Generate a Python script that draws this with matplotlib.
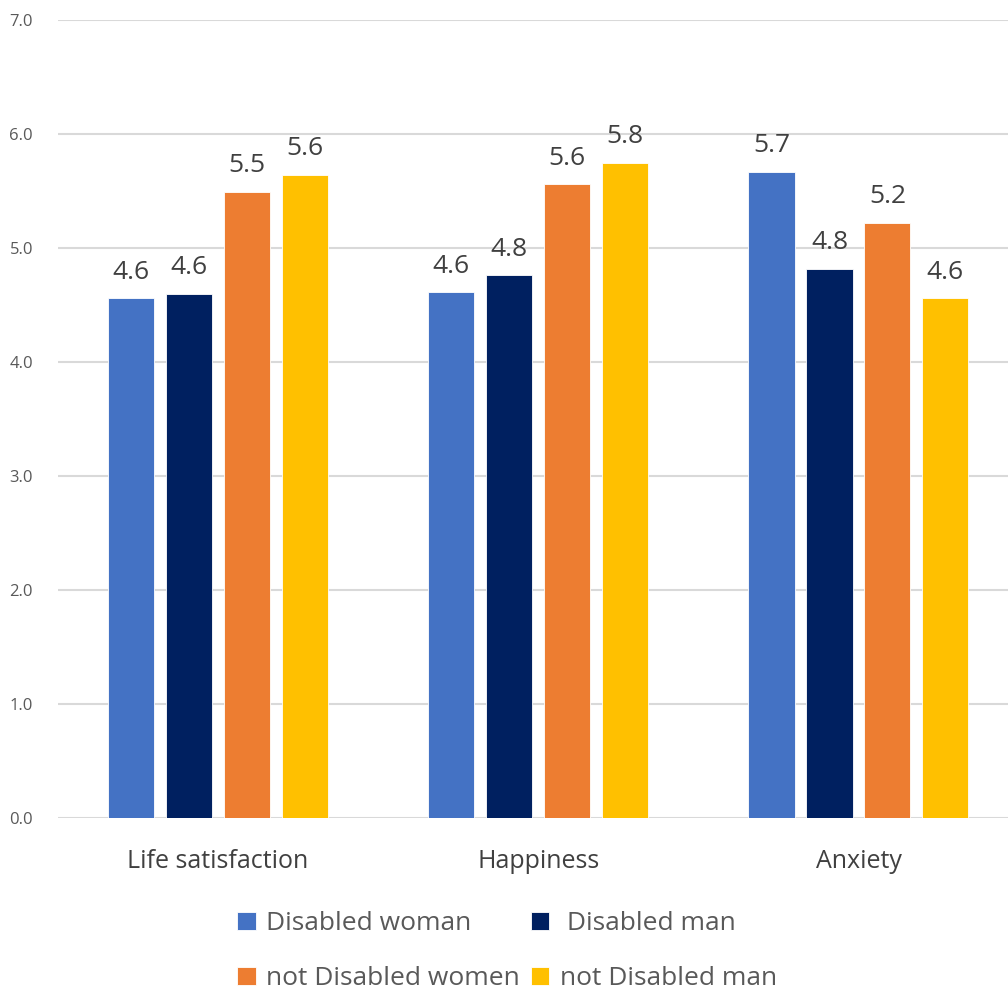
import matplotlib.pyplot as plt
import numpy as np

# Data
# ------------------------------------------------------------------------------

categories = ['Life satisfaction', 'Happiness', 'Anxiety']
series = ['Disabled woman', ' Disabled man', 'not Disabled women', 'not Disabled man']
disabled_woman = [4.56, 4.61, 5.67]
disabled_man = [4.60, 4.76, 4.82]
not_disabled_women = [5.49, 5.56, 5.22]
not_disabled_man = [5.64, 5.75, 4.56]
values = [disabled_woman, disabled_man, not_disabled_women, not_disabled_man]
colors = ['#4472C4', '#002060', '#ED7D31', '#FFC000']

# Plot
# ------------------------------------------------------------------------------

plt.rcParams['font.family'] = ['Open Sans', 'DejaVu Sans']

fig = plt.figure(figsize=(10.08, 9.92), dpi=100)
ax = fig.add_axes([0.0575, 0.1754, 0.9425, 0.8044])

x = np.arange(len(categories))
width = 0.144
step = 0.181
offsets = (np.arange(4) - 1.5) * step

handles = []
for vals, off, c, name in zip(values, offsets, colors, series):
    bars = ax.bar(x + off, vals, width, color=c, label=name,
                  edgecolor='white', linewidth=0.6, zorder=3)
    handles.append(bars)
    for b, v in zip(bars, vals):
        ax.text(b.get_x() + b.get_width() / 2, v + 0.12, f'{v:.1f}',
                ha='center', va='bottom', fontsize=19, color='#404040')

ax.set_xlim(-0.5, 2.467)
ax.set_ylim(0, 7)
ax.set_yticks(np.arange(0, 8, 1))
ax.set_yticklabels([f'{t:.1f}' for t in range(8)])
ax.set_xticks(x)
ax.set_xticklabels(categories)
ax.tick_params(axis='y', length=0, labelsize=12, labelcolor='#595959', pad=18)
ax.tick_params(axis='x', length=0, labelsize=18, labelcolor='#404040', pad=22)
ax.grid(axis='y', color='#D9D9D9', linewidth=1.5, zorder=0)
for s in ax.spines.values():
    s.set_visible(False)

# legend fills row by row in the original
order = [0, 2, 1, 3]
fig.legend([handles[i] for i in order], [series[i] for i in order],
           loc='lower left', bbox_to_anchor=(0.212, -0.023), ncol=2,
           frameon=False, fontsize=19, labelcolor='#595959',
           handlelength=0.7, handleheight=0.7, handletextpad=0.4,
           columnspacing=0.4, labelspacing=1.13)

plt.savefig('out.png', dpi=100)
